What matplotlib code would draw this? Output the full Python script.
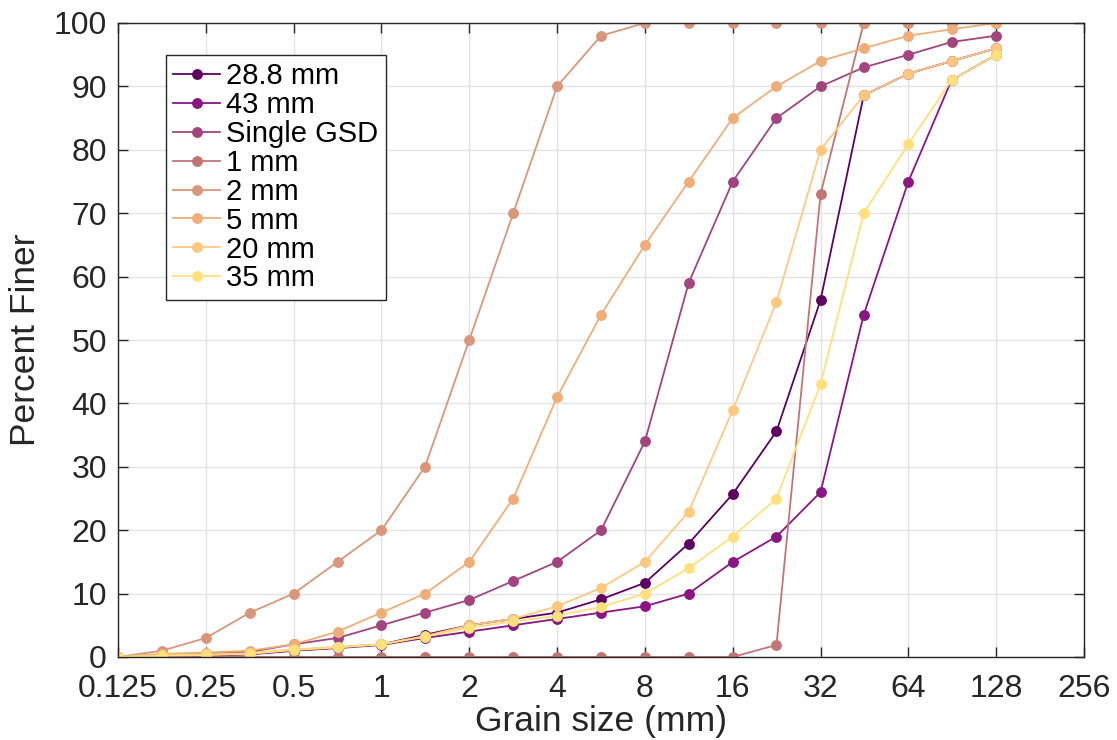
import numpy as np
import matplotlib
matplotlib.use("Agg")
import matplotlib.pyplot as plt

plt.rcParams['font.family'] = ['Liberation Sans', 'DejaVu Sans']

# sieve sizes (mm), half-phi steps
sizes = [0.125, 0.177, 0.25, 0.354, 0.5, 0.707, 1, 1.41, 2, 2.83, 4, 5.66,
         8, 11.3, 16, 22.6, 32, 45, 64, 90, 128]

s28 = [0, 0.2, 0.3, 0.5, 1, 1.5, 2, 3.5, 5, 6, 7, 9.1, 11.7, 17.9, 25.7, 35.6, 56.3, 88.6, 92, 94, 96]
s43 = [0, 0.1, 0.2, 0.4, 1, 1.4, 1.9, 3, 4, 5, 6, 7, 8, 10, 15, 19, 26, 54, 75, 91, 95]
single = [0, 0.3, 0.5, 0.8, 2, 3, 5, 7, 9, 12, 15, 20, 34, 59, 75, 85, 90, 93, 95, 97, 98]
s1 = [0, 0, 0, 0, 0, 0, 0, 0, 0, 0, 0, 0, 0, 0, 0, 1.9, 73, 100, 100, 100, 100]
s2 = [0, 1, 3, 7, 10, 15, 20, 30, 50, 70, 90, 98, 100, 100, 100, 100, 100, 100, 100, 100, 100]
s5 = [0, 0.5, 0.7, 1, 2, 4, 7, 10, 15, 25, 41, 54, 65, 75, 85, 90, 94, 96, 98, 99, 100]
s20 = [0, 0.3, 0.4, 0.6, 1.2, 1.6, 2, 3.3, 5, 6, 8, 10.9, 15, 22.9, 38.9, 56, 80, 88.6, 92, 94, 96]
s35 = [0, 0.2, 0.3, 0.5, 1.1, 1.5, 2, 3.2, 4.6, 5.6, 6.5, 7.9, 10, 14, 19, 25, 43, 70, 80.9, 91, 95]

labels = ['28.8 mm', '43 mm', 'Single GSD', '1 mm', '2 mm', '5 mm', '20 mm', '35 mm']
colors = ['#5E0062', '#8A1583', '#A2457E', '#C07577', '#DA967A', '#EFAE78', '#FEC97E', '#FFE07A']
series = [s28, s43, single, s1, s2, s5, s20, s35]

xticks = [0.125, 0.25, 0.5, 1, 2, 4, 8, 16, 32, 64, 128, 256]
xticklabels = ['0.125', '0.25', '0.5', '1', '2', '4', '8', '16', '32', '64', '128', '256']

fig = plt.figure(figsize=(11.17, 7.4), dpi=100)
ax = fig.add_axes([118/1117, 1-657/740, (1084-118)/1117, (657-23)/740])

for y, c, lab in zip(series, colors, labels):
    ax.plot(sizes, y, '-o', color=c, lw=1.3, ms=6.8, label=lab)

ax.set_xscale('log', base=2)
ax.set_xlim(0.125, 256)
ax.set_ylim(0, 100)
ax.set_xticks(xticks)
ax.set_xticklabels(xticklabels)
ax.minorticks_off()
ax.set_yticks(range(0, 101, 10))

ax.grid(True, color='#e3e3e3', lw=1.0)
ax.set_axisbelow(True)
for sp in ax.spines.values():
    sp.set_color('#262626')
    sp.set_linewidth(1.0)
ax.tick_params(direction='in', length=7, width=1, colors='#262626',
               labelsize=23, top=True, right=True)
ax.tick_params(axis='y', pad=8)
ax.tick_params(axis='x', pad=12)

ax.set_xlabel('Grain size (mm)', fontsize=25.5, color='#262626', labelpad=1)
ax.set_ylabel('Percent Finer', fontsize=25.5, color='#262626')
ax.yaxis.set_label_coords(-0.079, 0.5)

leg = fig.legend(loc='upper left', bbox_to_anchor=(166/1117, 1-55/740),
                 borderaxespad=0, fontsize=21, fancybox=False, framealpha=1,
                 edgecolor='#262626', handlelength=1.6, handletextpad=0.22,
                 labelspacing=0.03, borderpad=0.25)
leg.get_frame().set_linewidth(1.0)

fig.savefig('out.png', dpi=100)
